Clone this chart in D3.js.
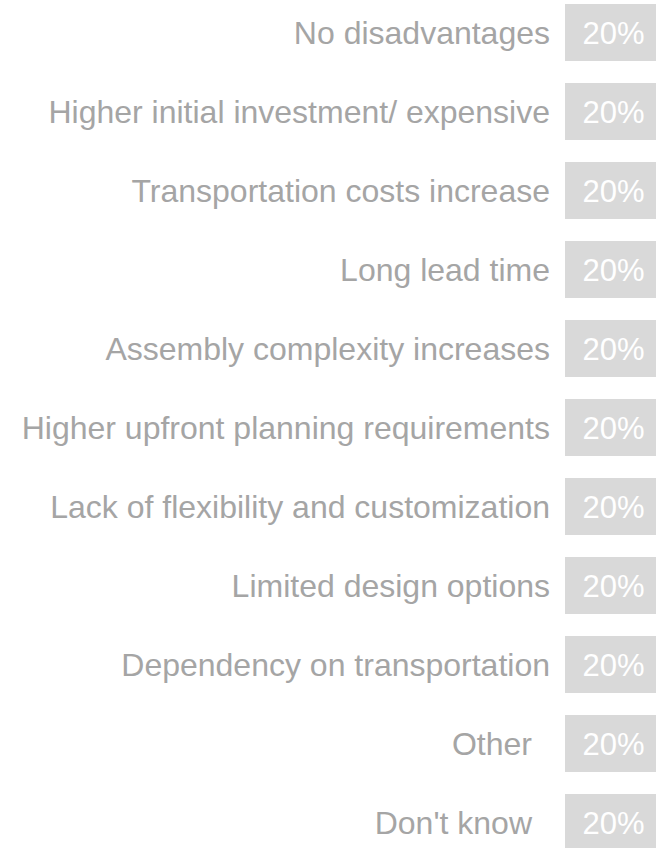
<!DOCTYPE html>
<html>
<head>
<meta charset="utf-8">
<script src="https://cdn.jsdelivr.net/npm/d3@7"></script>
<style>
  html, body { margin: 0; padding: 0; background: #ffffff; }
  svg { display: block; }
</style>
</head>
<body>
<svg id="chart" width="656" height="848"></svg>
<script>
const categories = [
  "No disadvantages",
  "Higher initial investment/ expensive",
  "Transportation costs increase",
  "Long lead time",
  "Assembly complexity increases",
  "Higher upfront planning requirements",
  "Lack of flexibility and customization",
  "Limited design options",
  "Dependency on transportation",
  "Other",
  "Don't know"
];
const values = [0.20, 0.20, 0.20, 0.20, 0.20, 0.20, 0.20, 0.20, 0.20, 0.20, 0.20];
const residualCategories = ["Other", "Don't know"];

const svg = d3.select("#chart");
const fontFamily = "'Liberation Sans', Arial, Helvetica, sans-serif";

const y = d3.scaleBand()
  .domain(categories)
  .range([4, 851])
  .paddingInner(0.2785)
  .paddingOuter(0);

const x = d3.scaleLinear().domain([0, 0.2]).range([565, 662]);

const fmt = d3.format(".0%");

const rows = svg.selectAll("g.row")
  .data(categories.map((c, i) => ({ cat: c, val: values[i] })))
  .join("g")
  .attr("class", "row");

rows.append("rect")
  .attr("x", x(0))
  .attr("y", d => y(d.cat))
  .attr("width", d => x(d.val) - x(0))
  .attr("height", y.bandwidth())
  .attr("fill", "#d9d9d9");

rows.append("text")
  .attr("x", d => (x(0) + x(d.val)) / 2)
  .attr("y", d => y(d.cat) + y.bandwidth() / 2)
  .attr("dy", "0.37em")
  .attr("text-anchor", "middle")
  .attr("font-family", fontFamily)
  .attr("font-size", 31)
  .attr("fill", "#ffffff")
  .text(d => fmt(d.val));

rows.append("text")
  .attr("x", d => residualCategories.includes(d.cat) ? 532 : 550)
  .attr("y", d => y(d.cat) + y.bandwidth() / 2)
  .attr("dy", "0.37em")
  .attr("text-anchor", "end")
  .attr("font-family", fontFamily)
  .attr("font-size", 32)
  .attr("fill", "#a5a5a5")
  .text(d => d.cat);
</script>
</body>
</html>
